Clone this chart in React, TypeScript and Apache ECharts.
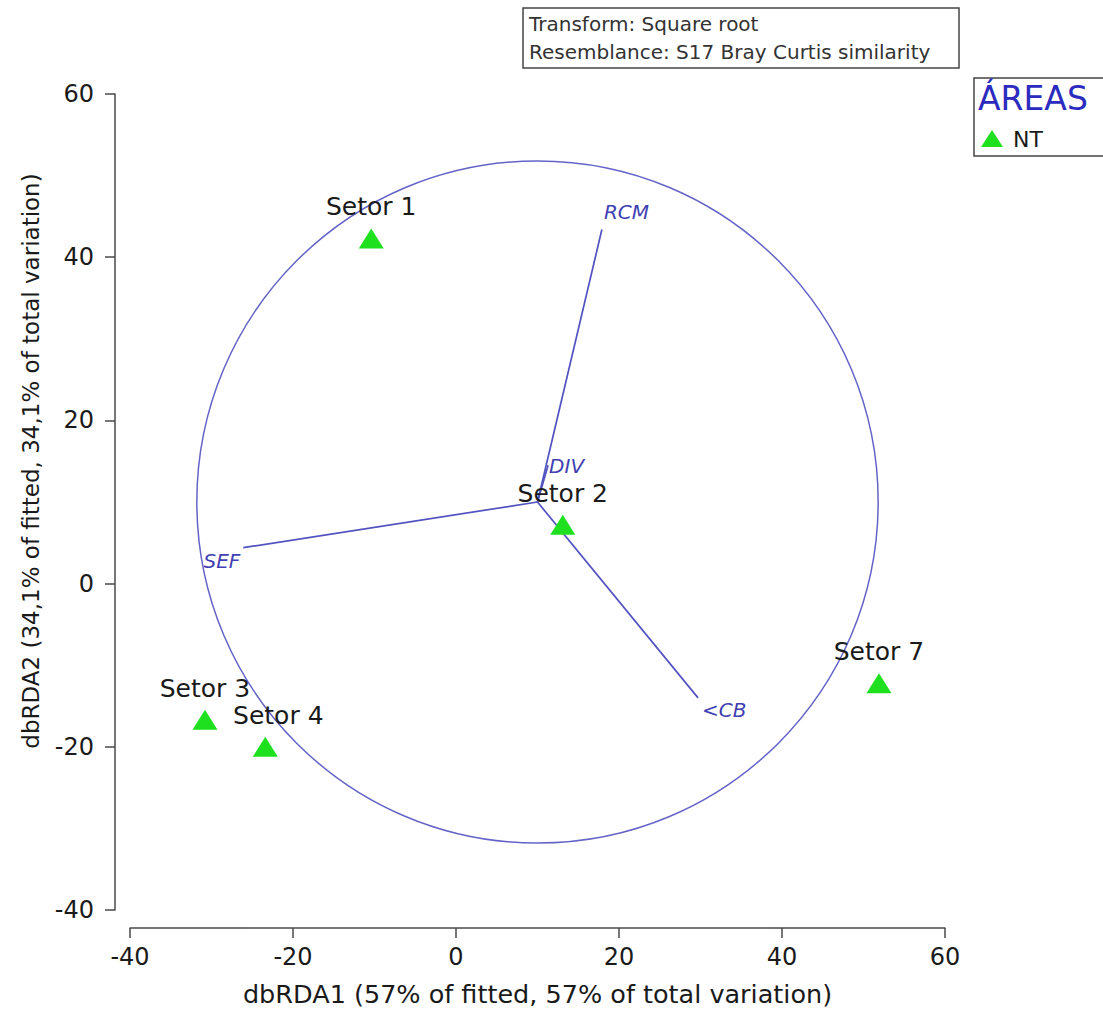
import React, { useEffect, useRef } from "react";
import * as echarts from "echarts";

// Site scores on the first two dbRDA axes
const sectors = ["Setor 1", "Setor 2", "Setor 3", "Setor 4", "Setor 7"];
const dbRDA1 = [-10.4, 13.1, -30.8, -23.4, 51.9];
const dbRDA2 = [42.3, 7.2, -16.7, -20.0, -12.2];

// Predictor vectors (end points), drawn from the centre of the correlation circle
const vectorNames = ["RCM", "DIV", "SEF", "<CB"];
const vectorEnd1 = [17.9, 11.3, -26.1, 29.7];
const vectorEnd2 = [43.4, 14.5, 4.4, -14.0];
const circleCentre = [10, 10];
const circleRadius = 41.8;

// Axis ticks
const xTicks = [-40, -20, 0, 20, 40, 60];
const yTicks = [-40, -20, 0, 20, 40, 60];

const FONT = '"DejaVu Sans", "Liberation Sans", Arial, sans-serif';
const VECTOR_COLOR = "#5252c2";
const AXIS_COLOR = "#4a4a4a";
const TEXT_COLOR = "#1a1a1a";
const POINT_COLOR = "#1fe01f";

// where each vector's name sits relative to its tip
const vectorLabelPlacement: Record<string, { dx: number; dy: number; align: string }> = {
  RCM: { dx: 2, dy: -17, align: "left" },
  DIV: { dx: 1, dy: 1, align: "left" },
  SEF: { dx: -3, dy: 13, align: "right" },
  "<CB": { dx: 4, dy: 12, align: "left" },
};

export default function App() {
  const ref = useRef<HTMLDivElement>(null);

  useEffect(() => {
    if (!ref.current) return;
    const chart = echarts.init(ref.current, null, { renderer: "svg" });

    const scatterData = sectors.map((name, i) => ({
      name,
      value: [dbRDA1[i], dbRDA2[i]],
      label: name === "Setor 4" ? { offset: [13, 0] } : undefined,
    }));

    const vectorData = vectorNames.map((name, i) => ({
      name,
      value: [circleCentre[0], circleCentre[1], vectorEnd1[i], vectorEnd2[i]],
    }));

    const option: any = {
      animation: false,
      backgroundColor: "#ffffff",
      grid: { left: 130, right: 158, top: 94, bottom: 100 },
      xAxis: {
        type: "value",
        min: xTicks[0],
        max: xTicks[xTicks.length - 1],
        interval: xTicks[1] - xTicks[0],
        position: "bottom",
        offset: 18,
        name: "dbRDA1 (57% of fitted, 57% of total variation)",
        nameLocation: "middle",
        nameGap: 53,
        nameTextStyle: { fontFamily: FONT, fontSize: 25.5, color: TEXT_COLOR },
        axisLine: { onZero: false, lineStyle: { color: AXIS_COLOR, width: 1.5 } },
        axisTick: { length: 10, lineStyle: { color: AXIS_COLOR, width: 1.5 } },
        axisLabel: { fontFamily: FONT, fontSize: 24, color: TEXT_COLOR, margin: 17 },
        splitLine: { show: false },
      },
      yAxis: {
        type: "value",
        min: yTicks[0],
        max: yTicks[yTicks.length - 1],
        interval: yTicks[1] - yTicks[0],
        position: "left",
        offset: 15,
        axisLine: { onZero: false, lineStyle: { color: AXIS_COLOR, width: 1.5 } },
        axisTick: { length: 10, lineStyle: { color: AXIS_COLOR, width: 1.5 } },
        axisLabel: { fontFamily: FONT, fontSize: 24, color: TEXT_COLOR, margin: 21 },
        splitLine: { show: false },
      },
      series: [
        {
          type: "custom",
          name: "circle",
          silent: true,
          clip: false,
          data: [[circleCentre[0], circleCentre[1], circleRadius]],
          renderItem: (_params: any, api: any) => {
            const c = api.coord([api.value(0), api.value(1)]);
            const rx = api.size([api.value(2), 0])[0];
            const ry = api.size([0, api.value(2)])[1];
            return {
              type: "ellipse",
              shape: { cx: c[0], cy: c[1], rx, ry },
              style: { fill: "none", stroke: "#6464c8", lineWidth: 1.5 },
            };
          },
          z: 1,
        },
        {
          type: "custom",
          name: "vectors",
          silent: true,
          clip: false,
          data: vectorData,
          renderItem: (params: any, api: any) => {
            const p0 = api.coord([api.value(0), api.value(1)]);
            const p1 = api.coord([api.value(2), api.value(3)]);
            const name = vectorNames[params.dataIndex];
            const pl = vectorLabelPlacement[name];
            return {
              type: "group",
              children: [
                {
                  type: "line",
                  shape: { x1: p0[0], y1: p0[1], x2: p1[0], y2: p1[1] },
                  style: { stroke: VECTOR_COLOR, lineWidth: 1.7 },
                },
                {
                  type: "text",
                  x: p1[0] + pl.dx,
                  y: p1[1] + pl.dy,
                  style: {
                    text: name,
                    fill: "#4040b2",
                    font: `italic 20px ${FONT}`,
                    align: pl.align,
                    verticalAlign: "middle",
                  },
                },
              ],
            };
          },
          z: 2,
        },
        {
          type: "scatter",
          name: "NT",
          data: scatterData,
          symbol: "triangle",
          symbolSize: [25, 20],
          itemStyle: { color: POINT_COLOR, opacity: 1 },
          label: {
            show: true,
            position: "top",
            distance: 9,
            formatter: (p: any) => p.name,
            fontFamily: FONT,
            fontSize: 25,
            color: TEXT_COLOR,
            opacity: 1,
          },
          z: 3,
        },
      ],
      graphic: [
        // transformation / resemblance box
        {
          type: "rect",
          shape: { x: 523, y: 8, width: 436, height: 60 },
          style: { fill: "#fff", stroke: "#444", lineWidth: 1.5 },
        },
        {
          type: "text",
          x: 529,
          y: 24,
          style: { text: "Transform: Square root", font: `20px ${FONT}`, fill: "#333", verticalAlign: "middle" },
        },
        {
          type: "text",
          x: 529,
          y: 52,
          style: {
            text: "Resemblance: S17 Bray Curtis similarity",
            font: `20px ${FONT}`,
            fill: "#333",
            verticalAlign: "middle",
          },
        },
        // legend
        {
          type: "rect",
          shape: { x: 974, y: 78, width: 140, height: 78 },
          style: { fill: "#fff", stroke: "#444", lineWidth: 1.5 },
        },
        {
          type: "text",
          x: 978,
          y: 98,
          style: { text: "ÁREAS", font: `33px ${FONT}`, fill: "#2b2bc0", verticalAlign: "middle" },
        },
        {
          type: "polygon",
          shape: { points: [[992, 130], [1003, 147], [981, 147]] },
          style: { fill: POINT_COLOR },
        },
        {
          type: "text",
          x: 1013,
          y: 139,
          style: { text: "NT", font: `22px ${FONT}`, fill: TEXT_COLOR, verticalAlign: "middle" },
        },
        // vertical axis title
        {
          type: "text",
          x: 31,
          y: 461,
          rotation: Math.PI / 2,
          style: {
            text: "dbRDA2 (34,1% of fitted, 34,1% of total variation)",
            font: `23px ${FONT}`,
            fill: TEXT_COLOR,
            align: "center",
            verticalAlign: "middle",
          },
        },
      ],
    };

    chart.setOption(option);
    return () => chart.dispose();
  }, []);

  return (
    <div
      ref={ref}
      style={{ position: "fixed", left: 0, top: 0, width: 1103, height: 1012, background: "#fff" }}
    />
  );
}
